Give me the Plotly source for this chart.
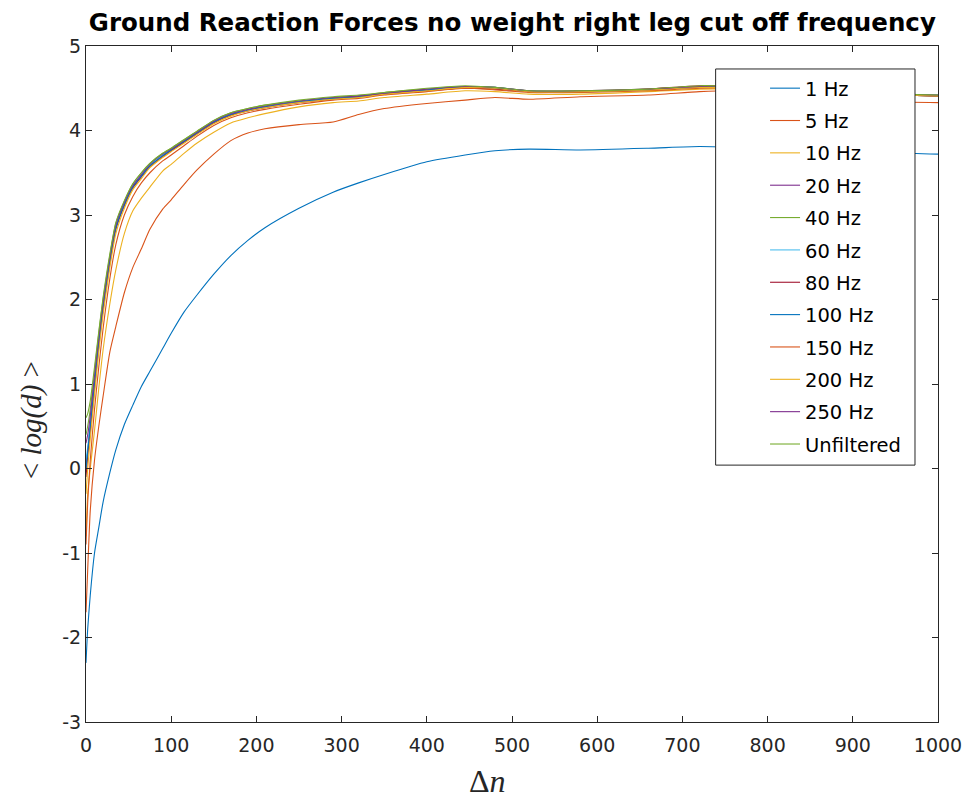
import plotly.graph_objects as go

dn = [0, 2, 5, 10, 15, 20, 28, 35, 45, 55, 65, 75, 90, 100, 115, 130, 150, 170, 190, 210,
      250, 290, 320, 350, 400, 445, 480, 520, 580, 660, 720, 760, 800, 850, 900, 950, 1000]

hz1 = [-2.3, -1.9, -1.5, -1.0, -0.7, -0.4, -0.05, 0.22, 0.52, 0.75, 0.97, 1.15, 1.42, 1.6, 1.85, 2.05, 2.3, 2.52, 2.7, 2.85,
       3.08, 3.27, 3.38, 3.48, 3.63, 3.71, 3.76, 3.78, 3.77, 3.79, 3.81, 3.80, 3.80, 3.79, 3.78, 3.74, 3.72]
hz5 = [-1.7, -1.2, -0.5, 0.1, 0.5, 0.85, 1.38, 1.68, 2.08, 2.38, 2.6, 2.83, 3.07, 3.18, 3.36, 3.53, 3.72, 3.88, 3.97, 4.02,
       4.07, 4.1, 4.19, 4.26, 4.32, 4.36, 4.39, 4.37, 4.40, 4.42, 4.46, 4.47, 4.45, 4.41, 4.37, 4.34, 4.33]
hz10 = [-0.8, -0.3, 0.0, 0.45, 0.95, 1.4, 1.95, 2.35, 2.78, 3.05, 3.2, 3.33, 3.52, 3.6, 3.73, 3.85, 3.98, 4.09, 4.15, 4.2,
        4.28, 4.33, 4.35, 4.39, 4.43, 4.47, 4.46, 4.43, 4.43, 4.46, 4.49, 4.49, 4.47, 4.45, 4.43, 4.42, 4.41]
hz20 = [0.0, 0.2, 0.5, 1.0, 1.5, 1.9, 2.45, 2.85, 3.12, 3.33, 3.46, 3.58, 3.7, 3.77, 3.87, 3.97, 4.1, 4.19, 4.24, 4.28,
        4.34, 4.38, 4.4, 4.43, 4.48, 4.51, 4.5, 4.46, 4.46, 4.48, 4.51, 4.51, 4.48, 4.46, 4.44, 4.42, 4.41]
hz40 = [0.4, 0.5, 0.7, 1.15, 1.6, 2.0, 2.52, 2.9, 3.16, 3.37, 3.5, 3.61, 3.73, 3.79, 3.89, 3.99, 4.12, 4.21, 4.26, 4.3,
        4.35, 4.39, 4.41, 4.45, 4.49, 4.52, 4.51, 4.47, 4.47, 4.49, 4.52, 4.52, 4.49, 4.47, 4.45, 4.43, 4.42]
hz60 = [0.1, 0.25, 0.55, 1.05, 1.5, 1.92, 2.47, 2.86, 3.13, 3.34, 3.47, 3.59, 3.71, 3.77, 3.87, 3.97, 4.1, 4.19, 4.24, 4.28,
        4.34, 4.38, 4.4, 4.44, 4.48, 4.52, 4.5, 4.46, 4.46, 4.48, 4.51, 4.51, 4.48, 4.46, 4.44, 4.43, 4.42]
hz80 = [-0.1, 0.15, 0.45, 0.95, 1.45, 1.88, 2.43, 2.83, 3.11, 3.32, 3.45, 3.57, 3.69, 3.76, 3.86, 3.96, 4.09, 4.18, 4.23, 4.27,
        4.33, 4.37, 4.4, 4.43, 4.47, 4.5, 4.49, 4.46, 4.46, 4.49, 4.53, 4.52, 4.49, 4.46, 4.44, 4.42, 4.41]
hz100 = [0.0, 0.2, 0.5, 1.0, 1.48, 1.9, 2.45, 2.84, 3.12, 3.33, 3.46, 3.58, 3.7, 3.77, 3.87, 3.97, 4.1, 4.19, 4.24, 4.28,
         4.34, 4.38, 4.4, 4.44, 4.48, 4.52, 4.51, 4.47, 4.46, 4.48, 4.51, 4.51, 4.48, 4.46, 4.44, 4.42, 4.41]
hz150 = [-0.9, -0.4, 0.1, 0.7, 1.2, 1.65, 2.25, 2.65, 3.0, 3.22, 3.38, 3.5, 3.64, 3.71, 3.82, 3.93, 4.06, 4.15, 4.21, 4.25,
         4.31, 4.36, 4.38, 4.42, 4.46, 4.5, 4.48, 4.45, 4.45, 4.47, 4.5, 4.5, 4.47, 4.45, 4.43, 4.42, 4.41]
hz200 = [-0.3, 0.0, 0.35, 0.88, 1.38, 1.82, 2.38, 2.78, 3.08, 3.3, 3.43, 3.56, 3.68, 3.75, 3.85, 3.95, 4.08, 4.17, 4.23, 4.27,
         4.33, 4.37, 4.39, 4.43, 4.47, 4.51, 4.5, 4.46, 4.46, 4.48, 4.51, 4.5, 4.48, 4.46, 4.44, 4.42, 4.41]
hz250 = [0.3, 0.4, 0.62, 1.1, 1.55, 1.96, 2.5, 2.88, 3.15, 3.35, 3.48, 3.6, 3.72, 3.78, 3.88, 3.98, 4.11, 4.2, 4.25, 4.29,
         4.35, 4.39, 4.41, 4.44, 4.49, 4.52, 4.51, 4.47, 4.47, 4.49, 4.52, 4.52, 4.49, 4.47, 4.45, 4.43, 4.42]
unfilt = [0.6, 0.65, 0.8, 1.2, 1.62, 2.02, 2.54, 2.91, 3.17, 3.37, 3.5, 3.61, 3.73, 3.79, 3.89, 3.99, 4.12, 4.21, 4.26, 4.3,
          4.36, 4.4, 4.42, 4.45, 4.5, 4.53, 4.51, 4.47, 4.47, 4.49, 4.53, 4.52, 4.49, 4.47, 4.45, 4.43, 4.42]

names = ["1 Hz", "5 Hz", "10 Hz", "20 Hz", "40 Hz", "60 Hz", "80 Hz", "100 Hz",
         "150 Hz", "200 Hz", "250 Hz", "Unfiltered"]
series = [hz1, hz5, hz10, hz20, hz40, hz60, hz80, hz100, hz150, hz200, hz250, unfilt]
colors = ["#0072BD", "#D95319", "#EDB120", "#7E2F8E", "#77AC30", "#4DBEEE", "#A2142F",
          "#0072BD", "#D95319", "#EDB120", "#7E2F8E", "#77AC30"]

x_ticks = [0, 100, 200, 300, 400, 500, 600, 700, 800, 900, 1000]
y_ticks = [-3, -2, -1, 0, 1, 2, 3, 4, 5]

fig = go.Figure()
for nm, ys, c in zip(names, series, colors):
    fig.add_trace(go.Scatter(x=dn, y=ys, name=nm, mode="lines", legendgroup=nm,
                             line=dict(color=c, width=1.1, shape="spline", smoothing=0.6)))

SANS = "DejaVu Sans, Verdana, sans-serif"
SERIF = "Liberation Serif, Times New Roman, serif"
tickfont = dict(family=SANS, size=19, color="#262626")
axis_common = dict(showline=True, linecolor="#262626", linewidth=1, mirror="ticks",
                   ticks="inside", ticklen=6, tickcolor="#262626", showgrid=False,
                   zeroline=False, tickfont=tickfont)

# legend frame (paper coords of the plot area)
L_X0, L_X1, L_Y0, L_Y1 = 0.739, 0.973, 0.380, 0.966

fig.update_layout(
    width=974, height=799,
    margin=dict(l=86, r=34, t=46, b=77),
    paper_bgcolor="white", plot_bgcolor="white",
    title=dict(text="<b>Ground Reaction Forces no weight right leg cut off frequency</b>",
               x=0.526, xanchor="center", y=0.972, yanchor="middle",
               font=dict(family=SANS, size=24.5, color="#000")),
    xaxis=dict(range=[0, 1000], tickvals=x_ticks, ticktext=[str(v) for v in x_ticks],
               ticklabelstandoff=6, **axis_common),
    yaxis=dict(range=[-3, 5], tickvals=y_ticks, ticktext=[str(v) for v in y_ticks],
               **axis_common),
    annotations=[
        dict(text="Δ<i>n</i>", xref="paper", yref="paper", x=0.471, y=-0.087,
             xanchor="center", yanchor="middle", showarrow=False,
             font=dict(family=SERIF, size=32, color="#262626")),
        dict(text="&lt; <i>log(d)</i> &gt;", xref="paper", yref="paper", x=-0.063, y=0.447,
             xanchor="center", yanchor="middle", showarrow=False, textangle=-90,
             font=dict(family=SERIF, size=29, color="#262626")),
    ],
    legend=dict(x=0.797, y=0.966, xanchor="left", yanchor="top",
                bgcolor="rgba(0,0,0,0)", borderwidth=0,
                font=dict(family=SANS, size=19.5, color="#000"),
                tracegroupgap=4),
    shapes=[dict(type="rect", xref="paper", yref="paper", x0=L_X0, x1=L_X1, y0=L_Y0, y1=L_Y1,
                 fillcolor="white", line=dict(color="#262626", width=1), layer="above")],
    showlegend=True,
)

fig.write_html("out.html")
